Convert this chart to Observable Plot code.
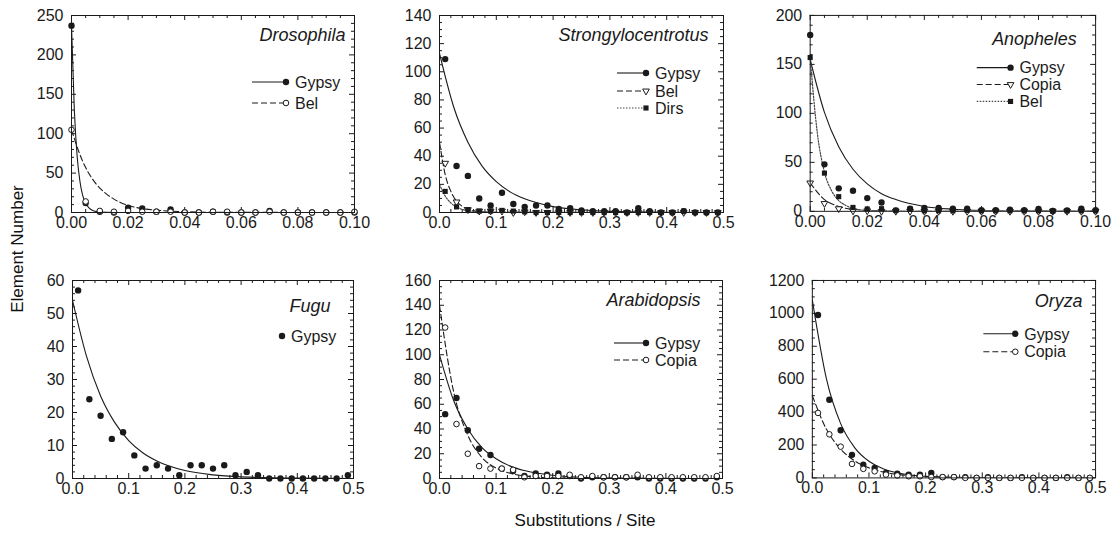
<!DOCTYPE html>
<html><head><meta charset="utf-8">
<script src="https://cdn.jsdelivr.net/npm/d3@7"></script>
<script src="https://cdn.jsdelivr.net/npm/@observablehq/plot@0.6"></script>
<style>
body{margin:0;background:#fff;}
#fig{position:relative;width:1115px;height:533px;font-family:"Liberation Sans",Arial,sans-serif;overflow:hidden;background:#fff}
#fig > div.p{position:absolute}
.lab{position:absolute;font-size:17px;color:#111;white-space:nowrap}
</style></head><body><div id="fig"></div>
<script>
// ---------- shared x positions ----------
const fineX = [0,0.005,0.01,0.015,0.02,0.025,0.03,0.035,0.04,0.045,0.05,0.055,0.06,0.065,0.07,0.075,0.08,0.085,0.09,0.095,0.1];
const oddX = [0.01,0.03,0.05,0.07,0.09,0.11,0.13,0.15,0.17,0.19,0.21,0.23,0.25,0.27,0.29,0.31,0.33,0.35,0.37,0.39,0.41,0.43,0.45,0.47,0.49];

// ---------- tick labels ----------
const xTicksFine = [0,0.02,0.04,0.06,0.08,0.1];
const xLabelsFine = ["0.00","0.02","0.04","0.06","0.08","0.10"];
const xTicksWide = [0,0.1,0.2,0.3,0.4,0.5];
const xLabelsWide = ["0.0","0.1","0.2","0.3","0.4","0.5"];
const yTicksDro = [0,50,100,150,200,250];
const yTicksStr = [0,20,40,60,80,100,120,140];
const yTicksAno = [0,50,100,150,200];
const yTicksFug = [0,10,20,30,40,50,60];
const yTicksAra = [0,20,40,60,80,100,120,140,160];
const yTicksOry = [0,200,400,600,800,1000,1200];

// ---------- Drosophila ----------
const droGypsy = [237,12,1,0,6,5,1,4,0,0,1,0,0,0,2,0,0,0,0,0,0];
const droBel   = [105,14,2,1,2,1,1,1,0,0,1,1,0,0,1,0,0,0,0,0,1];
const droGypsyFitX = [0,0.001,0.002,0.003,0.004,0.005,0.0075,0.01,0.015,0.1];
const droGypsyFitY = [237,130,71,39,21,12,2.6,0.6,0,0];
const droBelFitX = [0,0.0025,0.005,0.0075,0.01,0.0125,0.015,0.02,0.025,0.03,0.04,0.05,0.1];
const droBelFitY = [105,78,57,42,31,23,17,9,5,3,1,0.3,0];

// ---------- Strongylocentrotus ----------
const strGypsy = [109,33,26,10,5,14,6,4,5,5,2.5,3,1.5,1,1,1,0,3,1,0,0,1,0,0,0];
const strBel   = [35,7.5,2,1,1,1,0,0.5,0,0,0,0,0,0,0,0,0,0,0,0,0,0,0,0,0];
const strDirs  = [15,4,2,1,1,1.5,1,0.5,0,0,0,0,0,0,0,0,0,0,0,0,0,1,0,0,0];
const strGypsyFitX = [0,0.025,0.05,0.075,0.1,0.125,0.15,0.2,0.25,0.3,0.4,0.5];
const strGypsyFitY = [113,75,50,33,22,14.5,9.7,4.2,1.9,0.8,0.2,0];
const strBelFitX = [0,0.01,0.02,0.03,0.04,0.05,0.075,0.1,0.5];
const strBelFitY = [50,27,15,8,4.4,2.4,0.5,0.1,0];
const strDirsFitX = [0,0.01,0.02,0.03,0.05,0.1,0.5];
const strDirsFitY = [20,11.7,6.8,4,1.3,0.1,0];

// ---------- Anopheles ----------
const anoGypsy = [180,48,23.5,21,13.5,9,1,2.7,3.4,3.4,2.7,2.7,1.3,1.3,1.7,1.3,2.4,0.3,1,2.7,1.3];
const anoCopia = [29,8,2.7,0.5,0.5,0,0,0,0,0,0,0,0,0,0,0,0,0,0,0,0];
const anoBel   = [157,39,15,4,2.4,2.7,1,2.4,0.5,0.5,0.5,1,0.5,0.5,0.5,0.5,0.5,0.5,0.5,0.5,0.5];
const anoGypsyFitX = [0,0.005,0.01,0.015,0.02,0.025,0.03,0.04,0.05,0.06,0.08,0.1];
const anoGypsyFitY = [155,101,66,43,28,18,12,5,2.2,0.9,0.2,0];
const anoBelFitX = [0,0.0025,0.005,0.0075,0.01,0.0125,0.015,0.02,0.03,0.1];
const anoBelFitY = [157,80,40,21,11,6,3,0.8,0.1,0];
const anoCopiaFitX = [0,0.005,0.01,0.015,0.02,0.03,0.1];
const anoCopiaFitY = [29,12,5,2,0.9,0.15,0];

// ---------- Fugu ----------
const fugGypsy = [57,24,19,12,14,7,3,4,3,1,4,4,3,4,1,2,1,0,0,0,0,0,0,0,1];
const fugGypsyFitX = [0,0.025,0.05,0.075,0.1,0.125,0.15,0.2,0.25,0.3,0.4,0.5];
const fugGypsyFitY = [54,37,25,17,11.5,7.8,5.3,2.4,1.1,0.5,0.1,0];

// ---------- Arabidopsis ----------
const araGypsy = [52,65,39,24,19,8,6,2,4,3,4,2,0,1,1,1,1,1,0,0,0,0,0,0,1];
const araCopia = [122,44,20,10,8,8,7,1,2,2,2,3,1,2,1,1,1,3,1,1,1,1,1,1,2];
const araGypsyFitX = [0,0.025,0.05,0.075,0.1,0.125,0.15,0.2,0.25,0.3,0.4,0.5];
const araGypsyFitY = [100,63,40,25,16,10,6.4,2.6,1,0.4,0.1,0];
const araCopiaFitX = [0,0.025,0.05,0.075,0.1,0.125,0.15,0.2,0.3,0.5];
const araCopiaFitY = [140,70,35,17,8.5,4.2,2.1,0.5,0.1,0];

// ---------- Oryza ----------
const oryGypsy = [990,475,290,140,80,60,30,25,20,20,30,5,5,5,0,5,0,0,5,0,0,0,5,0,0];
const oryCopia = [395,265,190,85,55,40,20,15,10,10,5,5,5,0,0,0,0,0,0,0,0,0,0,0,0];
const oryGypsyFitX = [0,0.025,0.05,0.075,0.1,0.125,0.15,0.2,0.25,0.3,0.4,0.5];
const oryGypsyFitY = [1080,600,330,183,101,56,31,9.5,3,0.9,0.1,0];
const oryCopiaFitX = [0,0.025,0.05,0.075,0.1,0.125,0.15,0.2,0.25,0.3,0.4,0.5];
const oryCopiaFitY = [500,295,175,103,61,36,21,7.5,2.6,0.9,0.1,0];

// ---------- styles ----------
const INK = "#1a1a1a";
const STY = {
  gypsyFilled: {symbol: "circle", r: 3.2, fill: INK, stroke: "none", rotate: 0, open: false},
  openCircle:  {symbol: "circle", r: 2.8, fill: "white", stroke: INK, rotate: 0, open: true},
  openTri:     {symbol: "triangle", r: 2.5, fill: "white", stroke: INK, rotate: 180, open: true},
  square:      {symbol: "square", r: 2.9, fill: INK, stroke: "none", rotate: 0, open: false}
};
const LINES = {
  solid:  {dash: null, color: INK, width: 1.1},
  dashed: {dash: "6,3", color: INK, width: 1.1},
  dotted: {dash: "1.5,1.5", color: "#444", width: 1.2}
};

const zip = (xs, ys) => xs.map((x, i) => ({x, y: ys[i]}));

const panels = [
  {name: "Drosophila", fx: 71, fy: 15, fw: 283, fh: 197, xd: [0,0.1], yd: [0,250],
   xt: xTicksFine, xl: xLabelsFine, xm: 0.005, yt: yTicksDro, ym: 10,
   nameDx: -9, nameDy: 20, openOnTop: true,
   series: [
     {label: "Gypsy", pts: zip(fineX, droGypsy), fit: zip(droGypsyFitX, droGypsyFitY), mk: "gypsyFilled", ln: "solid"},
     {label: "Bel", pts: zip(fineX, droBel), fit: zip(droBelFitX, droBelFitY), mk: "openCircle", ln: "dashed"}
   ],
   leg: {mOff: 68, rows: [67, 88], len: 34}},
  {name: "Strongylocentrotus", fx: 439, fy: 15, fw: 284, fh: 197, xd: [0,0.5], yd: [0,140],
   xt: xTicksWide, xl: xLabelsWide, xm: 0.02, yt: yTicksStr, ym: 5,
   nameDx: -15, nameDy: 20, openOnTop: false,
   series: [
     {label: "Gypsy", pts: zip(oddX, strGypsy), fit: zip(strGypsyFitX, strGypsyFitY), mk: "gypsyFilled", ln: "solid"},
     {label: "Bel", pts: zip(oddX, strBel), fit: zip(strBelFitX, strBelFitY), mk: "openTri", ln: "dashed"},
     {label: "Dirs", pts: zip(oddX, strDirs), fit: zip(strDirsFitX, strDirsFitY), mk: "square", ln: "dotted"}
   ],
   leg: {mOff: 77, rows: [58, 76, 93], len: 29}},
  {name: "Anopheles", fx: 810, fy: 15, fw: 287, fh: 197, xd: [0,0.1], yd: [0,200],
   xt: xTicksFine, xl: xLabelsFine, xm: 0.005, yt: yTicksAno, ym: 10,
   nameDx: -19, nameDy: 24, openOnTop: false,
   series: [
     {label: "Gypsy", pts: zip(fineX, anoGypsy), fit: zip(anoGypsyFitX, anoGypsyFitY), mk: "gypsyFilled", ln: "solid"},
     {label: "Copia", pts: zip(fineX, anoCopia), fit: zip(anoCopiaFitX, anoCopiaFitY), mk: "openTri", ln: "dashed"},
     {label: "Bel", pts: zip(fineX, anoBel), fit: zip(anoBelFitX, anoBelFitY), mk: "square", ln: "dotted"}
   ],
   leg: {mOff: 85, rows: [53, 70, 87], len: 34}},
  {name: "Fugu", fx: 72, fy: 280, fw: 281, fh: 198, xd: [0,0.5], yd: [0,60],
   xt: xTicksWide, xl: xLabelsWide, xm: 0.02, yt: yTicksFug, ym: 2,
   nameDx: -23, nameDy: 26, openOnTop: true,
   series: [
     {label: "Gypsy", pts: zip(oddX, fugGypsy), fit: zip(fugGypsyFitX, fugGypsyFitY), mk: "gypsyFilled", ln: "solid", noLegLine: true}
   ],
   leg: {mOff: 71, rows: [56], len: 0}},
  {name: "Arabidopsis", fx: 439, fy: 280, fw: 283, fh: 198, xd: [0,0.5], yd: [0,160],
   xt: xTicksWide, xl: xLabelsWide, xm: 0.02, yt: yTicksAra, ym: 5,
   nameDx: -22, nameDy: 20, openOnTop: true,
   series: [
     {label: "Gypsy", pts: zip(oddX, araGypsy), fit: zip(araGypsyFitX, araGypsyFitY), mk: "gypsyFilled", ln: "solid"},
     {label: "Copia", pts: zip(oddX, araCopia), fit: zip(araCopiaFitX, araCopiaFitY), mk: "openCircle", ln: "dashed"}
   ],
   leg: {mOff: 76, rows: [63, 80], len: 32}},
  {name: "Oryza", fx: 812, fy: 280, fw: 284, fh: 198, xd: [0,0.5], yd: [0,1200],
   xt: xTicksWide, xl: xLabelsWide, xm: 0.02, yt: yTicksOry, ym: 50,
   nameDx: -13, nameDy: 21, openOnTop: true,
   series: [
     {label: "Gypsy", pts: zip(oddX, oryGypsy), fit: zip(oryGypsyFitX, oryGypsyFitY), mk: "gypsyFilled", ln: "solid"},
     {label: "Copia", pts: zip(oddX, oryCopia), fit: zip(oryCopiaFitX, oryCopiaFitY), mk: "openCircle", ln: "dashed"}
   ],
   leg: {mOff: 80, rows: [54, 72], len: 32}}
];

const fig = document.getElementById("fig");
const ML = 60, MT = 15, MR = 20, MB = 30;

function minorTicks(domain, step, majors) {
  const out = [];
  const n = Math.round((domain[1] - domain[0]) / step);
  for (let i = 0; i <= n; i++) {
    const v = +(domain[0] + i * step).toFixed(6);
    if (!majors.some(m => Math.abs(m - v) < step / 10)) out.push(v);
  }
  return out;
}

for (const p of panels) {
  const xMinor = minorTicks(p.xd, p.xm, p.xt);
  const yMinor = minorTicks(p.yd, p.ym, p.yt);
  const tk = {stroke: INK, strokeWidth: 1};
  const marks = [
    Plot.tickX(p.xt, {x: d => d, insetTop: p.fh - 5, ...tk}),
    Plot.tickX(p.xt, {x: d => d, insetBottom: p.fh - 5, ...tk}),
    Plot.tickX(xMinor, {x: d => d, insetTop: p.fh - 3, ...tk}),
    Plot.tickX(xMinor, {x: d => d, insetBottom: p.fh - 3, ...tk}),
    Plot.tickY(p.yt, {y: d => d, insetRight: p.fw - 5, ...tk}),
    Plot.tickY(p.yt, {y: d => d, insetLeft: p.fw - 5, ...tk}),
    Plot.tickY(yMinor, {y: d => d, insetRight: p.fw - 3, ...tk}),
    Plot.tickY(yMinor, {y: d => d, insetLeft: p.fw - 3, ...tk}),
    Plot.axisX(p.xt, {tickSize: 0, tickPadding: 4, fontSize: 16, fill: INK,
      tickFormat: d => p.xl[p.xt.indexOf(d)], label: null}),
    Plot.axisY(p.yt, {tickSize: 0, tickPadding: 8, fontSize: 16, fill: INK,
      tickFormat: d => String(d), label: null})
  ];
  for (const s of p.series) {
    const L = LINES[s.ln];
    marks.push(Plot.line(s.fit, {x: "x", y: "y", curve: "monotone-x", stroke: L.color,
      strokeWidth: L.width, strokeDasharray: L.dash, clip: true}));
  }
  // marker stacking order
  const order = [...p.series].sort((a, b) => {
    const oa = STY[a.mk].open ? 1 : 0, ob = STY[b.mk].open ? 1 : 0;
    return p.openOnTop ? oa - ob : ob - oa;
  });
  for (const s of order) {
    const M = STY[s.mk];
    marks.push(Plot.dot(s.pts, {x: "x", y: "y", symbol: M.symbol, r: M.r, fill: M.fill,
      stroke: M.stroke, strokeWidth: 1, rotate: M.rotate}));
  }
  marks.push(Plot.frame({stroke: INK, strokeWidth: 1}));
  marks.push(Plot.text([p.name], {frameAnchor: "top-right", dx: p.nameDx, dy: p.nameDy,
    text: d => d, fontSize: 18, fontStyle: "italic", textAnchor: "end", fill: INK, lineAnchor: "middle"}));

  const svg = Plot.plot({
    width: p.fw + ML + MR, height: p.fh + MT + MB,
    marginLeft: ML, marginTop: MT, marginRight: MR, marginBottom: MB,
    x: {domain: p.xd, axis: null},
    y: {domain: p.yd, axis: null},
    style: {background: "transparent", overflow: "visible", fontFamily: "'Liberation Sans', Arial, sans-serif", color: INK},
    marks
  });

  // legend
  const g = d3.select(svg).append("g").attr("class", "legend").attr("text-anchor", "start");
  const R = ML + p.fw;
  p.series.forEach((s, j) => {
    const y = MT + p.leg.rows[j];
    const mx = R - p.leg.mOff;
    const L = LINES[s.ln], M = STY[s.mk];
    if (!s.noLegLine && p.leg.len > 0) {
      g.append("line").attr("x1", mx - p.leg.len).attr("x2", mx).attr("y1", y).attr("y2", y)
        .attr("stroke", L.color).attr("stroke-width", L.width)
        .attr("stroke-dasharray", L.dash);
    }
    const sym = {circle: d3.symbolCircle, triangle: d3.symbolTriangle, square: d3.symbolSquare}[M.symbol];
    g.append("path").attr("d", d3.symbol(sym, Math.PI * M.r * M.r)())
      .attr("transform", `translate(${mx},${y}) rotate(${M.rotate})`)
      .attr("fill", M.fill).attr("stroke", M.stroke === "none" ? null : M.stroke);
    g.append("text").attr("x", mx + 9).attr("y", y).attr("dy", "0.36em")
      .attr("text-anchor", "start")
      .attr("font-size", 16).attr("fill", INK).text(s.label);
  });

  const wrap = document.createElement("div");
  wrap.className = "p";
  wrap.style.left = (p.fx - ML) + "px";
  wrap.style.top = (p.fy - MT) + "px";
  wrap.appendChild(svg);
  fig.appendChild(wrap);
}

const yl = document.createElement("div");
yl.className = "lab";
yl.textContent = "Element Number";
yl.style.left = "18px"; yl.style.top = "249px";
yl.style.transform = "translate(-50%,-50%) rotate(-90deg)";
fig.appendChild(yl);

const xlab = document.createElement("div");
xlab.className = "lab";
xlab.textContent = "Substitutions / Site";
xlab.style.left = "585px"; xlab.style.top = "521px";
xlab.style.transform = "translate(-50%,-50%)";
fig.appendChild(xlab);
</script></body></html>
